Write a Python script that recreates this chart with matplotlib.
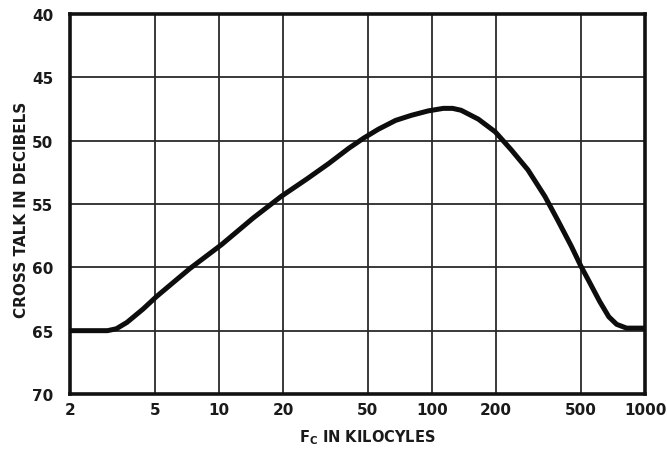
import matplotlib
matplotlib.use("Agg")
import matplotlib.pyplot as plt
from matplotlib.ticker import FixedLocator, NullLocator

# Data
freq_kc = [2, 2.5, 3.0, 3.3, 3.7, 4.4, 5.1, 6.1, 7.3, 10.3, 14.5, 19.6, 26, 32.8,
           40.7, 47.8, 56, 67.5, 80, 96, 113, 125, 137, 165, 198, 235, 282, 339, 390,
           450, 500, 550, 613, 676, 736, 820, 1000]
crosstalk_db = [65.0, 65.0, 65.0, 64.85, 64.35, 63.3, 62.3, 61.2, 60.1, 58.2, 56.1,
                54.4, 53.0, 51.8, 50.6, 49.8, 49.1, 48.4, 48.0, 47.65, 47.45, 47.45, 47.6,
                48.3, 49.3, 50.7, 52.3, 54.4, 56.3, 58.3, 59.9, 61.2, 62.7, 63.9, 64.5,
                64.8, 64.8]

x_ticks = [2, 5, 10, 20, 50, 100, 200, 500, 1000]
x_tick_labels = ["2", "5", "10", "20", "50", "100", "200", "500", "1000"]
y_ticks = [40, 45, 50, 55, 60, 65, 70]
y_tick_labels = ["40", "45", "50", "55", "60", "65", "70"]

fig = plt.figure(figsize=(6.67, 4.56), dpi=100)
ax = fig.add_axes([70/667, 1 - 395/456, 575/667, 380/456])

ax.set_xscale("log")
ax.set_xlim(2, 1000)
ax.set_ylim(70, 40)

ax.xaxis.set_major_locator(FixedLocator(x_ticks))
ax.xaxis.set_minor_locator(NullLocator())
ax.set_xticklabels(x_tick_labels)
ax.yaxis.set_major_locator(FixedLocator(y_ticks))
ax.set_yticklabels(y_tick_labels)

ax.grid(True, which="major", color="#2a2a2a", linewidth=1.3)
ax.tick_params(length=0, labelsize=11)
for lab in ax.get_xticklabels() + ax.get_yticklabels():
    lab.set_fontweight("bold")
    lab.set_color("#1a1a1a")
ax.tick_params(axis="x", pad=6)
ax.tick_params(axis="y", pad=12)

for sp in ax.spines.values():
    sp.set_linewidth(2.6)
    sp.set_color("#111111")

ax.plot(freq_kc, crosstalk_db, color="#0d0d0d", linewidth=3.6,
        solid_capstyle="round", solid_joinstyle="round", zorder=3)

fig.text(22/667, 1 - 210/456, "CROSS TALK IN DECIBELS", rotation=90,
         ha="center", va="center", fontsize=11, fontweight="bold", color="#1a1a1a")
fig.text(367/667, 1 - 438/456, r"F$_\mathregular{C}$ IN KILOCYLES",
         ha="center", va="center", fontsize=10.5, fontweight="bold", color="#1a1a1a")

fig.savefig("out.png", dpi=100)
